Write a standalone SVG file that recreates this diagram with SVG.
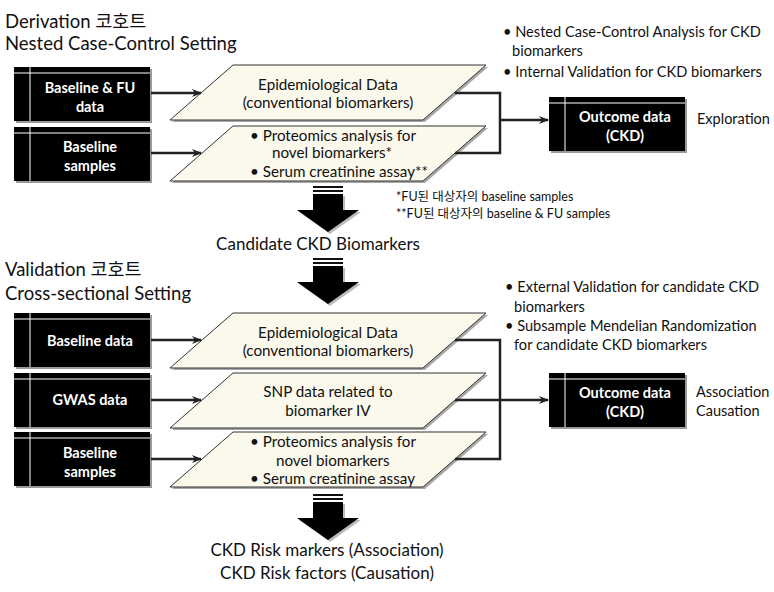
<svg xmlns="http://www.w3.org/2000/svg" width="774" height="592" viewBox="0 0 774 592">
<defs>
<style>
.t{font-family:Lato,"Noto Sans CJK KR",sans-serif;fill:#111;}
.h{font-size:18.5px;}
.c{font-size:17px;}
.b{font-size:14.5px;}
.s{font-size:14.6px;}
.f{font-size:12.5px;}
.w{font-family:Lato,"Noto Sans",sans-serif;font-size:14.5px;font-weight:bold;fill:#fff;text-anchor:middle;}
.pt{font-family:Lato,"Noto Sans",sans-serif;font-size:15.2px;fill:#111;text-anchor:middle;}
.pl{font-family:Lato,"Noto Sans",sans-serif;font-size:15.2px;fill:#111;}
.box{fill:#000;}
.sh{fill:#9a9a9a;}
.wl{stroke:#fff;stroke-width:1;fill:none;}
.para{fill:#fbf8ec;stroke:#333;stroke-width:1;}
.psh{fill:#a8a8a8;}
.con{stroke:#222;stroke-width:2.5;fill:none;}
.arw{stroke:#222;stroke-width:2.5;fill:none;marker-end:url(#ah);}
</style>
<marker id="ah" viewBox="0 0 10 10" refX="9" refY="5" markerWidth="4" markerHeight="4" orient="auto" markerUnits="strokeWidth">
<path d="M0,1 L10,5 L0,9 L3,5 Z" fill="#222"/>
</marker>
<g id="blk">
<rect class="sh" x="2" y="2" width="136" height="54"/>
<rect class="box" x="0" y="0" width="136" height="54"/>
<line class="wl" x1="0" y1="6" x2="136" y2="6"/>
<line class="wl" x1="16" y1="0" x2="16" y2="54"/>
</g>
<g id="par">
<path class="psh" d="M235,2 L488,2 L425,57 L172,57 Z"/>
<path class="para" d="M233,0 L486,0 L423,55 L170,55 Z"/>
</g>
<g id="down">
<rect x="-15" y="0" width="30" height="2" fill="#111"/>
<rect x="-15" y="4" width="30" height="2" fill="#111"/>
<path d="M-13,10 L17,10 L17,26 L33,26 L2,48 L-29,26 L-13,26 Z" fill="#bbb"/>
<path d="M-15,8 L15,8 L15,24 L31,24 L0,46 L-31,24 L-15,24 Z" fill="#000"/>
</g>
</defs>

<g id="title-derivation">
<text class="t h" x="5" y="28">Derivation 코호트</text>
<text class="t h" x="5" y="50">Nested Case-Control Setting</text>
</g>

<g id="node-baseline-fu">
<use href="#blk" x="14" y="67"/>
<text class="w" x="90" y="93">Baseline &amp; FU</text>
<text class="w" x="90" y="112">data</text>
</g>
<g id="node-baseline-samples-1">
<use href="#blk" x="14" y="127"/>
<text class="w" x="90" y="152">Baseline</text>
<text class="w" x="90" y="171">samples</text>
</g>

<g id="node-epi-1">
<use href="#par" y="65"/>
<text class="pt" x="328" y="90">Epidemiological Data</text>
<text class="pt" x="328" y="108">(conventional biomarkers)</text>
</g>
<g id="node-prot-1">
<use href="#par" y="126"/>
<text class="pl" x="250" y="141">• Proteomics analysis for</text>
<text class="pl" x="272" y="158">novel biomarkers*</text>
<text class="pl" x="250" y="177">• Serum creatinine assay**</text>
</g>

<g id="node-outcome-1">
<use href="#blk" x="549" y="97"/>
<text class="w" x="625" y="122">Outcome data</text>
<text class="w" x="625" y="141">(CKD)</text>
</g>
<g id="label-exploration">
<text class="t b" x="697" y="124">Exploration</text>
</g>

<g id="notes-derivation">
<text class="t s" x="503" y="37">• Nested Case-Control Analysis for CKD</text>
<text class="t s" x="512" y="56">biomarkers</text>
<text class="t s" x="503" y="77">• Internal Validation for CKD biomarkers</text>
</g>

<g id="footnotes">
<text class="t f" x="396" y="201">*FU된 대상자의 baseline samples</text>
<text class="t f" x="396" y="218">**FU된 대상자의 baseline &amp; FU samples</text>
</g>

<g id="arrow-1"><use href="#down" x="328" y="186"/></g>
<g id="node-candidate">
<text class="t c" x="318" y="250" text-anchor="middle">Candidate CKD Biomarkers</text>
</g>
<g id="arrow-2"><use href="#down" x="328" y="258"/></g>

<g id="title-validation">
<text class="t h" x="5" y="276">Validation 코호트</text>
<text class="t h" x="5" y="300">Cross-sectional Setting</text>
</g>

<g id="notes-validation">
<text class="t s" x="505" y="292">• External Validation for candidate CKD</text>
<text class="t s" x="514" y="312">biomarkers</text>
<text class="t s" x="505" y="331">• Subsample Mendelian Randomization</text>
<text class="t s" x="514" y="350">for candidate CKD biomarkers</text>
</g>

<g id="node-baseline-data">
<use href="#blk" x="14" y="313"/>
<text class="w" x="90" y="346">Baseline data</text>
</g>
<g id="node-gwas">
<use href="#blk" x="14" y="373"/>
<text class="w" x="90" y="405">GWAS data</text>
</g>
<g id="node-baseline-samples-2">
<use href="#blk" x="14" y="432"/>
<text class="w" x="90" y="458">Baseline</text>
<text class="w" x="90" y="477">samples</text>
</g>

<g id="node-epi-2">
<use href="#par" y="313"/>
<text class="pt" x="328" y="338">Epidemiological Data</text>
<text class="pt" x="328" y="356">(conventional biomarkers)</text>
</g>
<g id="node-snp">
<use href="#par" y="373"/>
<text class="pt" x="328" y="397">SNP data related to</text>
<text class="pt" x="328" y="416">biomarker IV</text>
</g>
<g id="node-prot-2">
<use href="#par" y="432"/>
<text class="pl" x="250" y="447">• Proteomics analysis for</text>
<text class="pl" x="276" y="466">novel biomarkers</text>
<text class="pl" x="250" y="484">• Serum creatinine assay</text>
</g>

<g id="node-outcome-2">
<use href="#blk" x="549" y="373"/>
<text class="w" x="625" y="398">Outcome data</text>
<text class="w" x="625" y="417">(CKD)</text>
</g>
<g id="label-assoc">
<text class="t b" x="696" y="397">Association</text>
<text class="t b" x="696" y="416">Causation</text>
</g>

<g id="arrow-3"><use href="#down" x="328" y="494"/></g>
<g id="node-risk">
<text class="t c" x="327" y="556" text-anchor="middle">CKD Risk markers (Association)</text>
<text class="t c" x="327" y="579" text-anchor="middle">CKD Risk factors (Causation)</text>
</g>

<g id="connectors">
<line class="arw" x1="151" y1="93" x2="201" y2="93"/>
<line class="arw" x1="151" y1="153" x2="201" y2="153"/>
<polyline class="con" points="455,93 500,93 500,153 455,153"/>
<line class="arw" x1="500" y1="120" x2="548" y2="120"/>
<line class="arw" x1="151" y1="340" x2="201" y2="340"/>
<line class="arw" x1="151" y1="400" x2="201" y2="400"/>
<line class="arw" x1="151" y1="459" x2="201" y2="459"/>
<polyline class="con" points="455,340 500,340 500,459 455,459"/>
<line class="arw" x1="455" y1="400" x2="548" y2="400"/>
</g>
</svg>
